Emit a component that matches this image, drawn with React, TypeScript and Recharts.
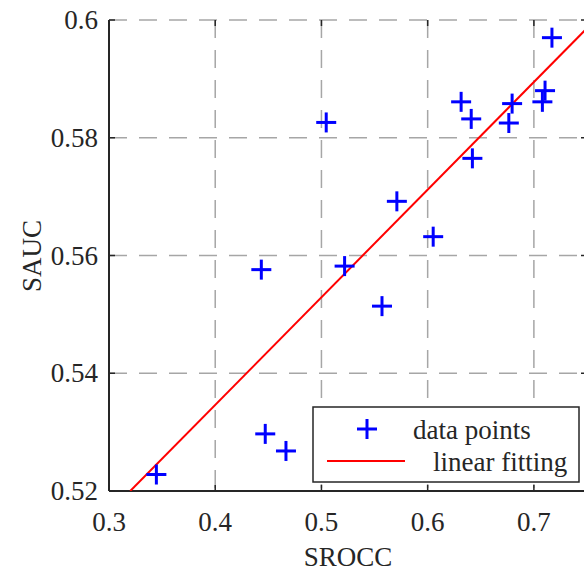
import React from "react";
import {
  ScatterChart,
  Scatter,
  XAxis,
  YAxis,
  CartesianGrid,
} from "recharts";

// SROCC vs SAUC
const sroccValues = [
  0.717, 0.7105, 0.708, 0.6315, 0.641, 0.6795, 0.6764, 0.5045, 0.6421, 0.571,
  0.6052, 0.5218, 0.4434, 0.557, 0.4471, 0.4666, 0.3446,
];
const saucValues = [
  0.597, 0.588, 0.5861, 0.5861, 0.5832, 0.5858, 0.5825, 0.5826, 0.5765, 0.5692,
  0.5632, 0.5582, 0.5576, 0.5514, 0.5297, 0.5268, 0.5228,
];

// end points of the fitted line
const fitX = [0.32, 0.75];
const fitY = [0.52, 0.5986];

const xTicks = [0.3, 0.4, 0.5, 0.6, 0.7];
const yTicks = [0.52, 0.54, 0.56, 0.58, 0.6];

const points = sroccValues.map((x, i) => ({ x, y: saucValues[i] }));
const fitLine = fitX.map((x, i) => ({ x, y: fitY[i] }));

const FONT = "'Liberation Serif', 'Times New Roman', serif";
const AXIS = "#262626";
const PLOT_TOP = 20;
const PLOT_BOTTOM = 491;
const PLOT_LEFT = 109;
const PLOT_RIGHT = 587;
const TICK_LEN = 6;

const Plus = (props: any) => {
  const { cx, cy } = props;
  if (cx == null || cy == null) return <g />;
  return (
    <g stroke="#0000ff" strokeWidth={3}>
      <line x1={cx - 10} x2={cx + 10} y1={cy} y2={cy} />
      <line x1={cx} x2={cx} y1={cy - 10} y2={cy + 10} />
    </g>
  );
};

const NoShape = () => <g />;

const XTick = (props: any) => {
  const { x, payload } = props;
  return (
    <g>
      <line x1={x} x2={x} y1={PLOT_BOTTOM} y2={PLOT_BOTTOM - TICK_LEN} stroke={AXIS} strokeWidth={1.5} />
      <line x1={x} x2={x} y1={PLOT_TOP} y2={PLOT_TOP + TICK_LEN} stroke={AXIS} strokeWidth={1.5} />
      <text
        x={x}
        y={522}
        textAnchor="middle"
        dominantBaseline="central"
        fontFamily={FONT}
        fontSize={27}
        fill={AXIS}
      >
        {String(payload.value)}
      </text>
    </g>
  );
};

const YTick = (props: any) => {
  const { y, payload } = props;
  return (
    <g>
      <line x1={PLOT_LEFT} x2={PLOT_LEFT + TICK_LEN} y1={y} y2={y} stroke={AXIS} strokeWidth={1.5} />
      <line x1={PLOT_RIGHT} x2={PLOT_RIGHT - TICK_LEN} y1={y} y2={y} stroke={AXIS} strokeWidth={1.5} />
      <text
        x={98}
        y={y}
        textAnchor="end"
        dominantBaseline="central"
        fontFamily={FONT}
        fontSize={27}
        fill={AXIS}
      >
        {String(payload.value)}
      </text>
    </g>
  );
};

const XTitle = () => (
  <text x={348} y={557} textAnchor="middle" dominantBaseline="central" fontFamily={FONT} fontSize={27} fill={AXIS}>
    SROCC
  </text>
);

const YTitle = () => (
  <text
    x={32}
    y={256}
    textAnchor="middle"
    dominantBaseline="central"
    fontFamily={FONT}
    fontSize={27}
    fill={AXIS}
    transform="rotate(-90, 32, 256)"
  >
    SAUC
  </text>
);

function LegendBox() {
  return (
    <svg
      width={268}
      height={78}
      style={{ position: "absolute", left: 312, top: 406, background: "#fff" }}
    >
      <rect x={1} y={1} width={266} height={75} fill="#fff" stroke={AXIS} strokeWidth={1.5} />
      <g stroke="#0000ff" strokeWidth={3}>
        <line x1={45} x2={65} y1={23} y2={23} />
        <line x1={55} x2={55} y1={13} y2={33} />
      </g>
      <text x={101} y={33} fontFamily={FONT} fontSize={27} fill={AXIS}>
        data points
      </text>
      <line x1={15} x2={93} y1={55} y2={55} stroke="#ff0000" strokeWidth={2} />
      <text x={121} y={65} fontFamily={FONT} fontSize={27} fill={AXIS}>
        linear fitting
      </text>
    </svg>
  );
}

export default function App() {
  return (
    <div
      style={{
        position: "absolute",
        left: 0,
        top: 0,
        width: 584,
        height: 571,
        overflow: "hidden",
        background: "#fff",
      }}
    >
      <ScatterChart
        width={600}
        height={571}
        margin={{ top: PLOT_TOP, right: 13, bottom: 0, left: 0 }}
      >
        <CartesianGrid
          stroke="#a6a6a6"
          strokeWidth={1.5}
          strokeDasharray="18 12"
          verticalPoints={undefined}
        />
        <XAxis
          type="number"
          dataKey="x"
          domain={[0.3, 0.75]}
          ticks={xTicks}
          height={80}
          tick={<XTick />}
          tickLine={false}
          axisLine={{ stroke: AXIS, strokeWidth: 2 }}
          allowDataOverflow
          label={<XTitle />}
        />
        <XAxis
          xAxisId="top"
          type="number"
          orientation="top"
          domain={[0.3, 0.75]}
          height={0}
          tick={false}
          tickLine={false}
          axisLine={{ stroke: AXIS, strokeWidth: 2 }}
        />
        <YAxis
          type="number"
          dataKey="y"
          domain={[0.52, 0.6]}
          ticks={yTicks}
          width={109}
          tick={<YTick />}
          tickLine={false}
          axisLine={{ stroke: AXIS, strokeWidth: 2 }}
          allowDataOverflow
          label={<YTitle />}
        />
        <YAxis
          yAxisId="right"
          type="number"
          orientation="right"
          domain={[0.52, 0.6]}
          width={0}
          tick={false}
          tickLine={false}
          axisLine={{ stroke: AXIS, strokeWidth: 2 }}
        />
        <Scatter
          data={fitLine}
          line={{ stroke: "#ff0000", strokeWidth: 2 }}
          shape={<NoShape />}
          isAnimationActive={false}
        />
        <Scatter data={points} shape={<Plus />} isAnimationActive={false} />
      </ScatterChart>
      <LegendBox />
    </div>
  );
}
